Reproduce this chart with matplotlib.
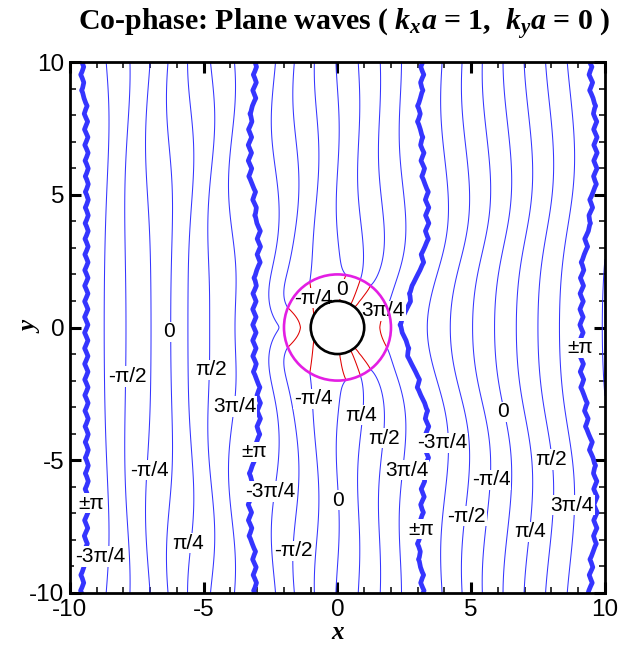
import numpy as np
import matplotlib
matplotlib.use("Agg")
import matplotlib.pyplot as plt
import matplotlib.tri as mtri

plt.rcParams["axes.unicode_minus"] = False
plt.rcParams["mathtext.fontset"] = "custom"
plt.rcParams["mathtext.rm"] = "Liberation Serif:bold"
plt.rcParams["mathtext.it"] = "Liberation Serif:italic:bold"
plt.rcParams["mathtext.bf"] = "Liberation Serif:bold"

# incident plane wave and cloak geometry
kxa, kya = 1.0, 0.0
r_inner, r_outer = 1.0, 2.0

# scattered-field coefficients B_n of H_n(kr) cos(n theta)
coef_re = [-0.442, -0.300, 0.294, -0.026, -0.011, 0.023, -0.002]
coef_im = [-0.158, -0.475, -0.100, 0.183, -0.059, 0.018, -0.003]

# phase on the inner (black) boundary vs. polar angle, symmetric in theta
inner_theta_deg = [0, 35, 50, 60, 85, 120, 152, 180]
inner_phase_pi = [0.62, 0.58, 0.5, 0.25, 0.0, -0.15, -0.25, -0.32]

# phase levels (multiples of pi/4); +-pi is the branch line
thin_levels = [-3, -2, -1, 0, 1, 2, 3]

label_text = ["0", "-π/2", "π/2", "3π/4", "±π", "-π/4", "-3π/4", "0", "π/4", "-π/2",
              "±π", "-3π/4", "-π/4", "π/4", "π/2", "3π/4", "-3π/4", "±π", "0", "-π/4",
              "-π/2", "π/2", "π/4", "3π/4", "±π", "-π/4", "0", "3π/4"]
label_x = [-6.30, -7.86, -4.74, -3.83, -3.12, -7.04, -2.52, 0.03, -5.58, -1.65,
           -9.19, -8.88, -0.90, 0.87, 1.74, 2.60, 3.92, 3.15, 6.20, 5.76,
           4.83, 7.99, 7.20, 8.78, 9.07, -0.91, 0.16, 1.71]
label_y = [-0.16, -1.85, -1.60, -2.98, -4.68, -5.37, -6.18, -6.50, -8.13, -8.41,
           -6.62, -8.63, -2.69, -3.30, -4.17, -5.37, -4.34, -7.60, -3.17, -5.74,
           -7.10, -4.97, -7.69, -6.69, -0.77, 1.10, 1.44, 0.63]

BLUE = "#3535ff"
NMAX = len(coef_re) - 1
B = np.array(coef_re) + 1j * np.array(coef_im)
k = np.hypot(kxa, kya) / r_inner


def bessel_j(n, x):
    tau = np.linspace(0, np.pi, 1201)
    return np.trapezoid(np.cos(n * tau[None] - x[:, None] * np.sin(tau[None])), tau, axis=1) / np.pi


def bessel_y01(n, x):
    tau = np.linspace(0, np.pi, 2001)
    i1 = np.trapezoid(np.sin(x[:, None] * np.sin(tau[None]) - n * tau[None]), tau, axis=1) / np.pi
    t = np.linspace(0, 7, 3501)
    f2 = (np.exp(n * t[None]) + (-1) ** n * np.exp(-n * t[None])) * np.exp(-x[:, None] * np.sinh(t[None]))
    return i1 - np.trapezoid(f2, t, axis=1) / np.pi


# tabulated Hankel functions on a radial grid
rr = np.linspace(1.9, 14.8, 1300)
Jt = np.array([bessel_j(n, k * rr) for n in range(NMAX + 1)])
Yt = np.zeros_like(Jt)
Yt[0] = bessel_y01(0, k * rr)
Yt[1] = bessel_y01(1, k * rr)
for n in range(1, NMAX):
    Yt[n + 1] = 2 * n / (k * rr) * Yt[n] - Yt[n - 1]
Ht = Jt + 1j * Yt


def outer_field(X, Y):
    R = np.hypot(X, Y)
    T = np.arctan2(Y, X)
    u = np.exp(1j * k * (X * kxa + Y * kya))
    for n in range(NMAX + 1):
        h = np.interp(R, rr, Ht[n].real) + 1j * np.interp(R, rr, Ht[n].imag)
        u = u + B[n] * h * np.cos(n * T)
    return u


def shell_field(X, Y):
    # blend between the inner-boundary phase and the outer field on r = r_outer
    R = np.hypot(X, Y)
    T = np.arctan2(Y, X)
    w = np.clip((R - r_inner) / (r_outer - r_inner), 0, 1)
    ph_in = np.pi * np.interp(np.degrees(np.abs(T)), inner_theta_deg, inner_phase_pi)
    u_b = outer_field(r_outer * np.cos(T), r_outer * np.sin(T))
    return (1 - w) * np.exp(1j * ph_in) + w * u_b


g = np.linspace(-10, 10, 501)
X, Y = np.meshgrid(g, g)
R = np.hypot(X, Y)
U = outer_field(X, Y)
V = shell_field(X, Y)

fig = plt.figure(figsize=(6.34, 6.5), dpi=100)
ax = fig.add_axes([0.1104, 0.0877, 0.8438, 0.8169])

for lv in thin_levels:
    rot = U * np.exp(-1j * lv * np.pi / 4)
    im = np.where((R < r_outer) | (rot.real < 0), np.nan, rot.imag)
    ax.contour(X, Y, im, levels=[0], colors=BLUE, linewidths=0.75, zorder=2)
    rot = V * np.exp(-1j * lv * np.pi / 4)
    im = np.where((R < r_inner) | (R > r_outer) | (rot.real < 0), np.nan, rot.imag)
    ax.contour(X, Y, im, levels=[0], colors="#e00000", linewidths=0.75, zorder=2)

# branch line of the phase (+-pi), traced on a coarse triangular mesh
h = 0.34
rows = np.arange(-10.5, 10.7, h * np.sqrt(3) / 2)
px, py = [], []
for j, yv in enumerate(rows):
    xs = np.arange(-10.5, 10.7, h) + (j % 2) * h / 2
    px.extend(xs)
    py.extend([yv] * len(xs))
px, py = np.array(px), np.array(py)
tri = mtri.Triangulation(px, py)
d = np.angle(-outer_field(px, py))
q = np.sign(d) * np.abs(d) ** 0.25
bad = (np.abs(d) > np.pi / 2) | (np.hypot(px, py) < r_outer)
tri.set_mask(bad[tri.triangles].any(axis=1))
ax.tricontour(tri, np.where(bad, 1.0, q), levels=[0], colors=BLUE, linewidths=3.4, zorder=2)

ax.add_patch(plt.Circle((0, 0), r_outer, fill=False, ec="#e31ee3", lw=1.9, zorder=6))
ax.add_patch(plt.Circle((0, 0), r_inner, fill=False, ec="black", lw=1.9, zorder=7))

for s_, x_, y_ in zip(label_text, label_x, label_y):
    ax.text(x_, y_, s_, ha="center", va="center", fontsize=15, family="Liberation Sans",
            zorder=5, bbox=dict(fc="white", ec="none", pad=0.5))

ax.set_xlim(-10, 10)
ax.set_ylim(-10, 10)
ax.set_xticks([-10, -5, 0, 5, 10])
ax.set_yticks([-10, -5, 0, 5, 10])
ax.set_xticks(np.arange(-10, 11, 1), minor=True)
ax.set_yticks(np.arange(-10, 11, 1), minor=True)
ax.tick_params(which="both", direction="in", top=True, right=True, labelsize=17.5, pad=4)
ax.tick_params(which="major", length=8, width=2.2)
ax.tick_params(which="minor", length=4.5, width=1.1)
for lab in ax.get_xticklabels() + ax.get_yticklabels():
    lab.set_family("Liberation Sans")
for sp in ax.spines.values():
    sp.set_linewidth(2.0)
    sp.set_zorder(8)

ax.set_xlabel("x", family="Liberation Serif", style="italic", weight="bold", fontsize=18)
ax.set_ylabel("y", family="Liberation Serif", style="italic", weight="bold", fontsize=18)
ax.xaxis.set_label_coords(0.5, -0.052)
ax.yaxis.set_label_coords(-0.052, 0.5)

fig.text(0.543, 0.963, r"Co-phase: Plane waves ( $k_x a$ = 1,  $k_y a$ = 0 )",
         ha="center", va="center", family="Liberation Serif", weight="bold", fontsize=21.5)

fig.savefig("out.png")
